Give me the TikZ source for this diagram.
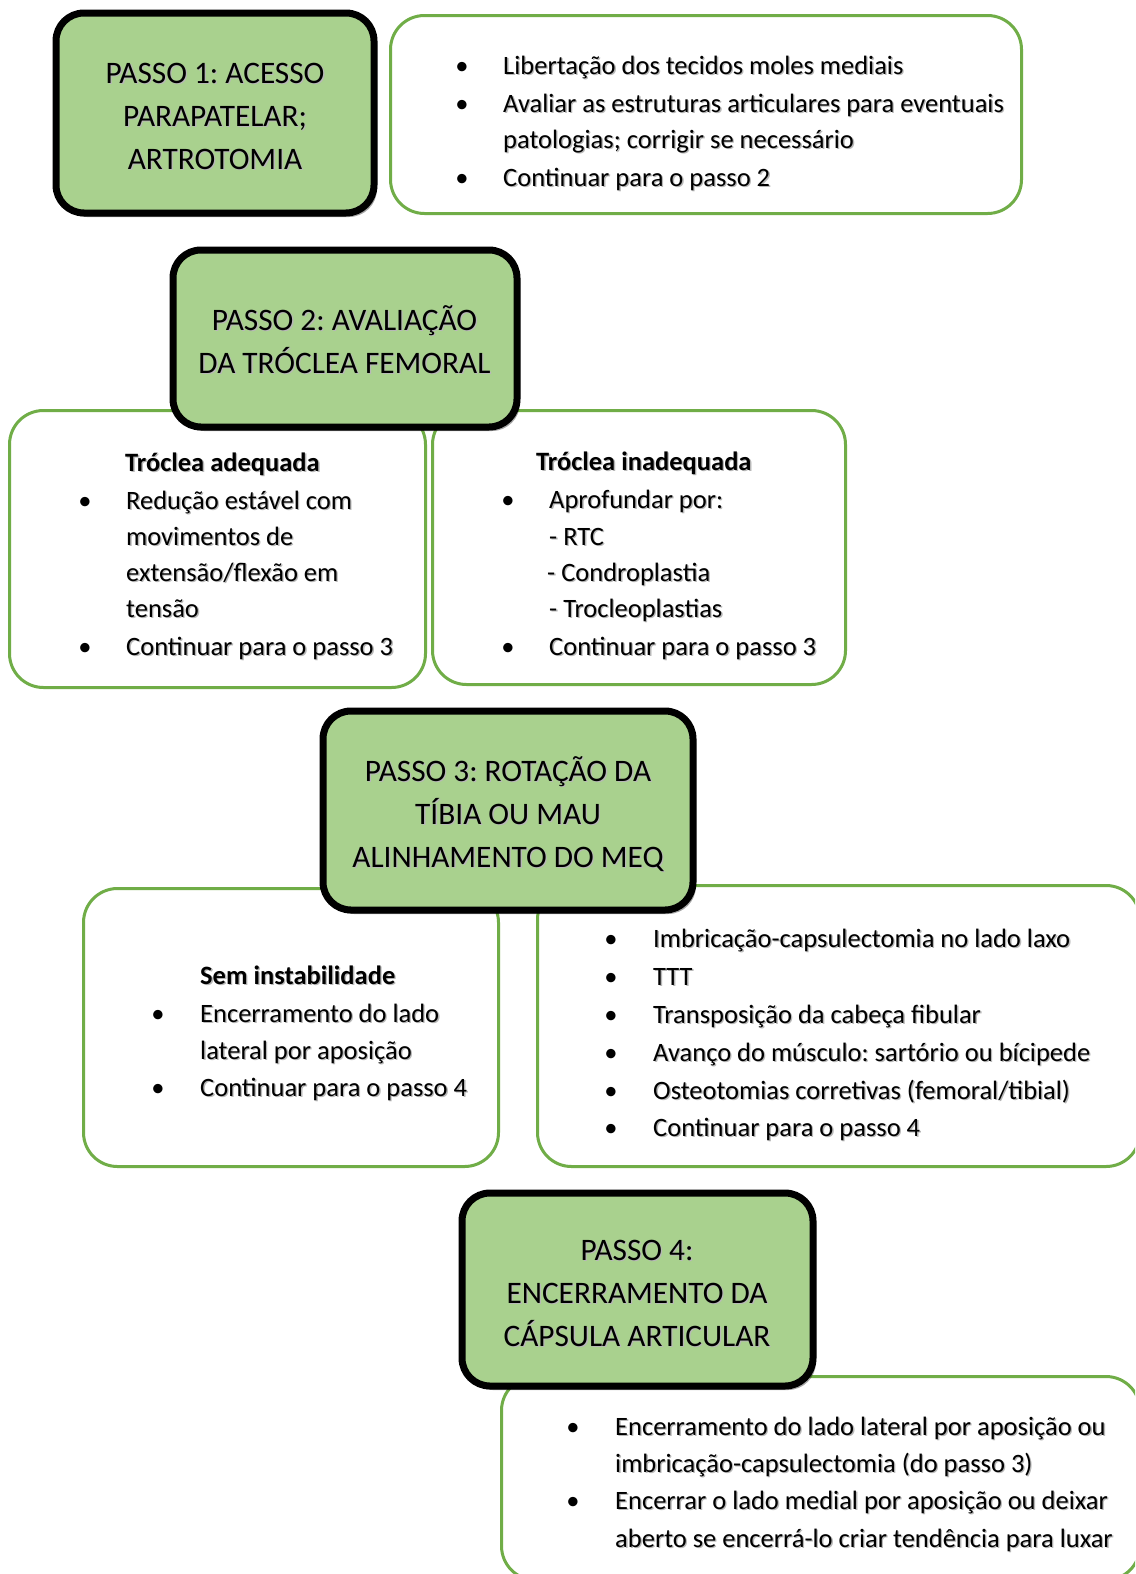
\documentclass[tikz,border=0pt]{standalone}
\usepackage{fontspec}
\setmainfont{Carlito}
\frenchspacing
\usetikzlibrary{shadows}
\definecolor{gline}{HTML}{70AD47}
\definecolor{gfill}{HTML}{A9D18E}
\tikzset{
  stepbox/.style={draw=black, line width=7pt, fill=gfill, rounded corners=28pt,
    drop shadow={shadow xshift=3pt, shadow yshift=-4pt, opacity=0.35, fill=black}},
  infobox/.style={draw=gline, line width=3pt, fill=white, rounded corners=34pt},
  body/.style={anchor=base west, inner sep=0pt, yshift=-4pt, font=\fontsize{26.5}{37}\selectfont},
  bodyb/.style={body, font=\fontsize{26.5}{37}\selectfont\bfseries},
  bulletst/.style={anchor=base, inner sep=0pt, yshift=-4pt, font=\fontsize{26.5}{37}\selectfont},
  head/.style={align=center, inner sep=0pt, yshift=-5pt, font=\fontsize{31.3}{43}\selectfont},
}
\newcommand\sh[4]{%
  \node[#2, text=black!28, xshift=1.3pt, yshift=-1.3pt] (#1s) at (#3) {#4};
  \node[#2] (#1) at (#3) {#4};}
\newcommand\litem[5]{%
  \node[bulletst] (#1b) at (#2,#4) {\textbullet};
  \sh{#1}{body}{#3,#4}{#5}}
\begin{document}
\begin{tikzpicture}[x=1pt,y=-1pt]
\fill[white] (0,0) rectangle (1135,1574);
\useasboundingbox (0,0) rectangle (1135,1574);
\clip (0,0) rectangle (1135,1574);

% ---------- STEP 1 ----------
\node[stepbox, minimum width=318, minimum height=200] (p1) at (215,113) {};
\sh{p1t}{head}{215,113}{\strut PASSO 1: ACESSO\\\strut PARAPATELAR;\\\strut ARTROTOMIA}
\node[infobox, minimum width=631, minimum height=198] (i1) at (706,114.5) {};
\litem{a1}{462}{503}{70}{Libertação dos tecidos moles mediais}
\litem{a2}{462}{503}{108}{Avaliar as estruturas articulares para eventuais}
\sh{a3}{body}{503,144}{patologias; corrigir se necessário}
\litem{a4}{462}{503}{182}{Continuar para o passo 2}

% ---------- STEP 2 ----------
\node[infobox, minimum width=416, minimum height=277] (i2a) at (217.5,549) {};
\node[infobox, minimum width=413, minimum height=274] (i2b) at (639,547.5) {};
\node[stepbox, minimum width=344, minimum height=177] (p2) at (345,338.5) {};
\sh{p2t}{head}{344.5,338.5}{\strut PASSO 2: AVALIAÇÃO\\\strut DA TRÓCLEA FEMORAL}

\sh{b0}{bodyb}{125,467}{Tróclea adequada}
\litem{b1}{85}{126}{505}{Redução estável com}
\sh{b2}{body}{126,541}{movimentos de}
\sh{b3}{body}{126,577}{extensão/flexão em}
\sh{b4}{body}{126,613}{tensão}
\litem{b5}{85}{126}{651}{Continuar para o passo 3}

\sh{c0}{bodyb}{536,466}{Tróclea inadequada}
\litem{c1}{508}{549}{504}{Aprofundar por:}
\sh{c2}{body}{549,541}{- RTC}
\sh{c3}{body}{547,577}{- Condroplastia}
\sh{c4}{body}{549,613}{- Trocleoplastias}
\litem{c5}{508}{549}{651}{Continuar para o passo 3}

% ---------- STEP 3 ----------
\node[infobox, minimum width=415, minimum height=278] (i3a) at (291,1027.5) {};
\node[infobox, minimum width=602.5, minimum height=281] (i3b) at (838.75,1026) {};
\node[stepbox, minimum width=370, minimum height=199] (p3) at (508,810.5) {};
\sh{p3t}{head}{508,810.5}{\strut PASSO 3: ROTAÇÃO DA\\\strut TÍBIA OU MAU\\\strut ALINHAMENTO DO MEQ}

\sh{d0}{bodyb}{200,980}{Sem instabilidade}
\litem{d1}{158}{200}{1018}{Encerramento do lado}
\sh{d2}{body}{200,1055}{lateral por aposição}
\litem{d3}{158}{200}{1092}{Continuar para o passo 4}

\litem{e1}{611}{653}{943}{Imbricação-capsulectomia no lado laxo}
\litem{e2}{611}{653}{981}{TTT}
\litem{e3}{611}{653}{1019}{Transposição da cabeça fibular}
\litem{e4}{611}{653}{1057}{Avanço do músculo: sartório ou bícipede}
\litem{e5}{611}{653}{1095}{Osteotomias corretivas (femoral/tibial)}
\litem{e6}{611}{653}{1132}{Continuar para o passo 4}

% ---------- STEP 4 ----------
\node[infobox, minimum width=638.5, minimum height=203.5] (i4) at (820.75,1478.25) {};
\node[stepbox, minimum width=351, minimum height=193] (p4) at (637.5,1289.5) {};
\sh{p4t}{head}{637,1289.5}{\strut PASSO 4:\\\strut ENCERRAMENTO DA\\\strut CÁPSULA ARTICULAR}

\litem{f1}{573}{615}{1431}{Encerramento do lado lateral por aposição ou}
\sh{f2}{body}{615,1468}{imbricação-capsulectomia (do passo 3)}
\litem{f3}{573}{615}{1505}{Encerrar o lado medial por aposição ou deixar}
\sh{f4}{body}{615,1543}{aberto se encerrá-lo criar tendência para luxar}
\end{tikzpicture}
\end{document}
